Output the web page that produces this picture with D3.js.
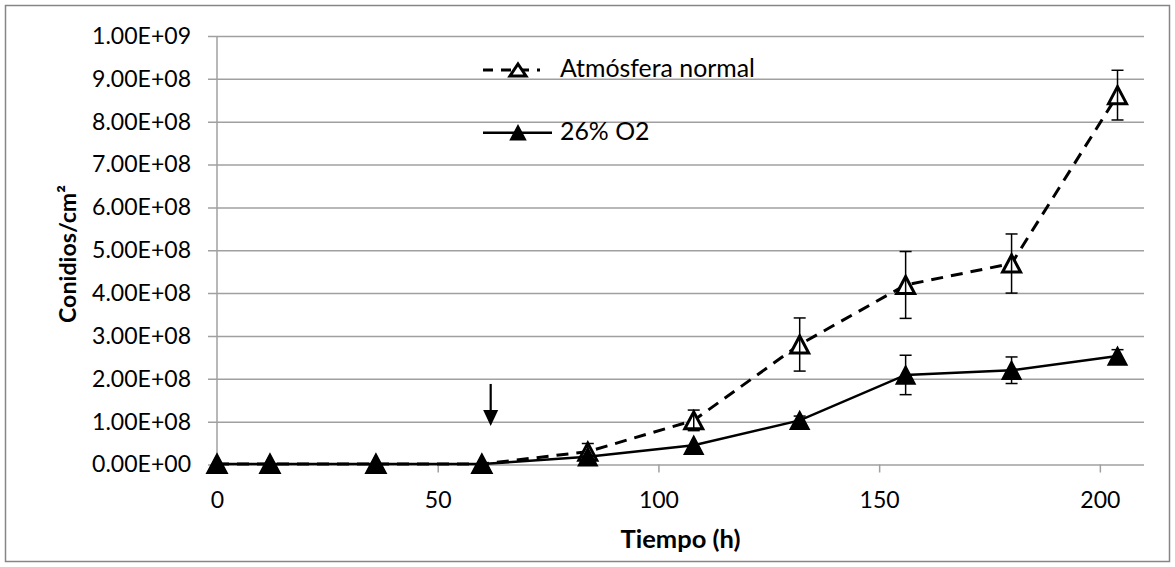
<!DOCTYPE html>
<html>
<head>
<meta charset="utf-8">
<script src="https://cdn.jsdelivr.net/npm/d3@7"></script>
<style>
  body { margin: 0; background: #fff; }
  svg text { font-family: Lato, "Open Sans", sans-serif; fill: #000; }
</style>
</head>
<body>
<script>
// data
var hours      = [0, 12, 36, 60, 84, 108, 132, 156, 180, 204];
var normalMean = [1e6, 1e6, 1e6, 1e6, 3.0e7, 1.03e8, 2.8e8, 4.19e8, 4.69e8, 8.62e8];
var normalErr  = [0, 0, 0, 0, 1.9e7, 2.4e7, 6.2e7, 7.8e7, 6.9e7, 5.8e7];
var o2Mean     = [1e6, 1e6, 1e6, 1e6, 1.8e7, 4.5e7, 1.03e8, 2.09e8, 2.2e8, 2.53e8];
var o2Err      = [0, 0, 0, 0, 0, 0, 1.0e7, 4.6e7, 3.1e7, 1.5e7];
var seriesNames = ["Atmósfera normal", "26% O2"];
var xTicks = [0, 50, 100, 150, 200];
var yTicks = [0, 1e8, 2e8, 3e8, 4e8, 5e8, 6e8, 7e8, 8e8, 9e8, 1e9];
// arrow marking the change (x in h, y from/to)
var arrowAt = {x: 62, from: 1.88e8, to: 0.9e8};

function init(){
    var w = 1175, h = 567;
    var left = 217, right = 1144, top = 36, bottom = 464.5;

    var x = d3.scaleLinear().domain([0, 210]).range([left, right]);
    var y = d3.scaleLinear().domain([0, 1e9]).range([bottom, top]);

    var svg = d3.select("body").append("svg")
                .attr("width", w)
                .attr("height", h);

    // pick a font size so a sample string gets the width seen in the picture
    function fitFont(str, weight, target){
        var t = svg.append("text").style("font-size", "100px")
                   .style("font-weight", weight).text(str);
        var len = t.node().getComputedTextLength();
        t.remove();
        return 100 * target / len;
    }
    var tickSize = fitFont("1.00E+09", "normal", 99);
    var legendSize = fitFont(seriesNames[0], "normal", 195);
    var xTitleSize = fitFont("Tiempo (h)", "bold", 120);
    var yTitleSize = fitFont("Conidios/cm²", "bold", 138);

    // outer frame
    svg.append("rect")
        .attr("x", 5.5).attr("y", 5.5)
        .attr("width", 1164).attr("height", 556)
        .attr("fill", "none")
        .attr("stroke", "#868686")
        .attr("stroke-width", 1.5);

    // y format like 1.00E+09
    function sci(v){
        if (v === 0) return "0.00E+00";
        var e = Math.floor(Math.log10(v));
        var m = v / Math.pow(10, e);
        return m.toFixed(2) + "E+" + (e < 10 ? "0" + e : e);
    }

    // gridlines + y labels (axis drawn from the right edge so the lines run across)
    var yAxis = svg.append("g")
        .attr("transform", "translate(" + right + ",0)")
        .call(d3.axisLeft(y).tickValues(yTicks).tickFormat(sci)
              .tickSize(right - left + 9).tickPadding(17));
    yAxis.select(".domain").remove();
    yAxis.selectAll(".tick line").attr("stroke", "#a0a0a0").attr("stroke-width", 1.5);
    yAxis.selectAll(".tick text").style("font-size", tickSize + "px");

    // y axis line
    svg.append("line")
        .attr("x1", left).attr("x2", left)
        .attr("y1", top).attr("y2", bottom)
        .attr("stroke", "#a0a0a0").attr("stroke-width", 1.5);

    // x axis
    var xAxis = svg.append("g")
        .attr("transform", "translate(0," + bottom + ")")
        .call(d3.axisBottom(x).tickValues(xTicks).tickSize(8));
    xAxis.select(".domain").remove();
    xAxis.selectAll(".tick line").attr("stroke", "#a0a0a0").attr("stroke-width", 1.5);
    xAxis.selectAll(".tick text")
        .attr("y", 508 - bottom).attr("dy", null)
        .style("font-size", tickSize + "px");

    // axis titles
    svg.append("text")
        .attr("x", (left + right) / 2).attr("y", 548)
        .attr("text-anchor", "middle")
        .style("font-size", xTitleSize + "px").style("font-weight", "bold")
        .text("Tiempo (h)");

    svg.append("text")
        .attr("transform", "translate(76,254) rotate(-90)")
        .attr("text-anchor", "middle")
        .style("font-size", yTitleSize + "px").style("font-weight", "bold")
        .text("Conidios/cm²");

    var normal = hours.map(function(d, i){ return {x: d, y: normalMean[i], e: normalErr[i]}; });
    var o2 = hours.map(function(d, i){ return {x: d, y: o2Mean[i], e: o2Err[i]}; });

    var line = d3.line()
        .x(function(d){ return x(d.x); })
        .y(function(d){ return y(d.y); });

    // triangle marker centred on its box, like the spreadsheet ones
    function triangle(tw, th){
        return "M0," + (-th / 2) + "L" + (tw / 2) + "," + (th / 2) + "L" + (-tw / 2) + "," + (th / 2) + "Z";
    }

    function errorBars(data, cls){
        var g = svg.selectAll("." + cls).data(data.filter(function(d){ return d.e > 0; }))
            .enter().append("g").attr("class", cls)
            .attr("stroke", "#000").attr("stroke-width", 1.5);
        g.append("line")
            .attr("x1", function(d){ return x(d.x); }).attr("x2", function(d){ return x(d.x); })
            .attr("y1", function(d){ return y(d.y + d.e); }).attr("y2", function(d){ return y(d.y - d.e); });
        g.append("line")
            .attr("x1", function(d){ return x(d.x) - 6; }).attr("x2", function(d){ return x(d.x) + 6; })
            .attr("y1", function(d){ return y(d.y + d.e); }).attr("y2", function(d){ return y(d.y + d.e); });
        g.append("line")
            .attr("x1", function(d){ return x(d.x) - 6; }).attr("x2", function(d){ return x(d.x) + 6; })
            .attr("y1", function(d){ return y(d.y - d.e); }).attr("y2", function(d){ return y(d.y - d.e); });
    }

    // series 1: normal atmosphere
    svg.append("path").datum(normal)
        .attr("d", line)
        .attr("fill", "none").attr("stroke", "#000")
        .attr("stroke-width", 3).attr("stroke-dasharray", "12,8");
    svg.selectAll(".normpt").data(normal).enter()
        .append("path").attr("class", "normpt")
        .attr("d", triangle(18, 17))
        .attr("transform", function(d){ return "translate(" + x(d.x) + "," + y(d.y) + ")"; })
        .attr("fill", "#fff").attr("stroke", "#000").attr("stroke-width", 3);
    errorBars(normal, "errN");

    // series 2: 26% O2
    svg.append("path").datum(o2)
        .attr("d", line)
        .attr("fill", "none").attr("stroke", "#000")
        .attr("stroke-width", 2.5);
    svg.selectAll(".o2pt").data(o2).enter()
        .append("path").attr("class", "o2pt")
        .attr("d", triangle(19, 18))
        .attr("transform", function(d){ return "translate(" + x(d.x) + "," + y(d.y) + ")"; })
        .attr("fill", "#000").attr("stroke", "#000").attr("stroke-width", 1.5);
    errorBars(o2, "errO");

    // arrow
    svg.append("line")
        .attr("x1", x(arrowAt.x)).attr("x2", x(arrowAt.x))
        .attr("y1", y(arrowAt.from)).attr("y2", y(arrowAt.to) - 12)
        .attr("stroke", "#000").attr("stroke-width", 2.2);
    svg.append("path")
        .attr("d", "M" + (x(arrowAt.x) - 7.5) + "," + (y(arrowAt.to) - 16) +
                   "L" + (x(arrowAt.x) + 7.5) + "," + (y(arrowAt.to) - 16) +
                   "L" + x(arrowAt.x) + "," + y(arrowAt.to) + "Z")
        .attr("fill", "#000");

    // legend
    var legend = svg.append("g");
    var rows = [
        {name: seriesNames[0], cy: 70, base: 76.7, x2: 540, dash: "10,8", fill: "#fff", sw: 3, tw: 16, th: 12},
        {name: seriesNames[1], cy: 132.7, base: 140, x2: 552, dash: null, fill: "#000", sw: 1.5, tw: 15, th: 14}
    ];
    rows.forEach(function(r){
        legend.append("line")
            .attr("x1", 483).attr("x2", r.x2)
            .attr("y1", r.cy).attr("y2", r.cy)
            .attr("stroke", "#000").attr("stroke-width", r.dash ? 3 : 2.5)
            .attr("stroke-dasharray", r.dash);
        legend.append("path")
            .attr("d", triangle(r.tw, r.th))
            .attr("transform", "translate(518," + r.cy + ")")
            .attr("fill", r.fill).attr("stroke", "#000").attr("stroke-width", r.sw);
        legend.append("text")
            .attr("x", 560).attr("y", r.base)
            .style("font-size", legendSize + "px")
            .text(r.name);
    });
}
window.onload = init;
</script>
</body>
</html>
